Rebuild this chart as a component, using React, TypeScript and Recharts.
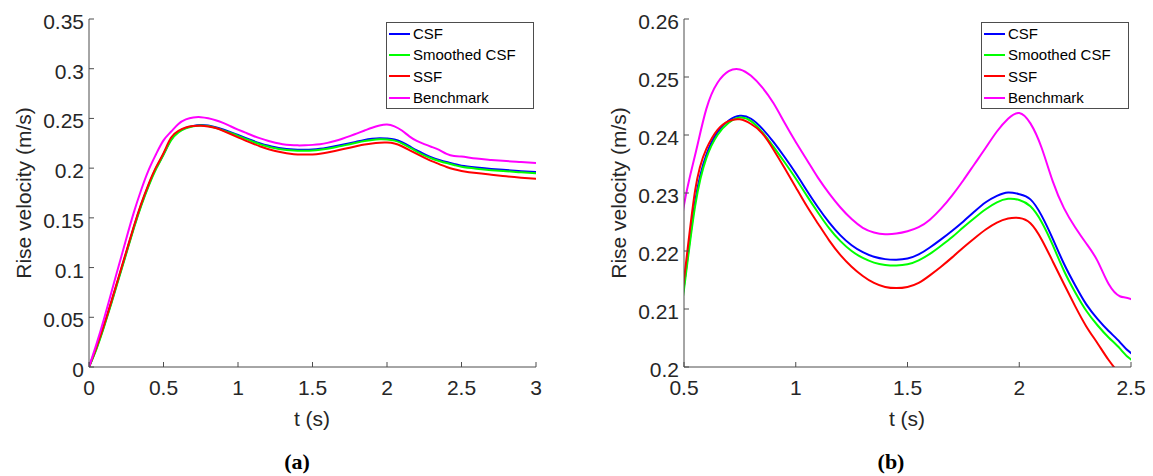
import React from "react";
import { LineChart, Line, XAxis, YAxis, Legend } from "recharts";

// time samples (s)
const time = [
  0, 0.05, 0.1, 0.15, 0.2, 0.25, 0.3, 0.35, 0.4, 0.45,
  0.5, 0.55, 0.6, 0.65, 0.7, 0.75, 0.8, 0.85, 0.9, 0.95,
  1.0, 1.05, 1.1, 1.15, 1.2, 1.25, 1.3, 1.35, 1.4, 1.45,
  1.5, 1.55, 1.6, 1.65, 1.7, 1.75, 1.8, 1.85, 1.9, 1.95,
  2.0, 2.05, 2.1, 2.15, 2.2, 2.25, 2.3, 2.35, 2.4, 2.45,
  2.5, 2.6, 2.7, 2.8, 2.9, 3.0,
];

// rise velocity (m/s)
const csf = [
  0, 0.019, 0.041, 0.065, 0.09, 0.115, 0.14, 0.163, 0.183, 0.2,
  0.214, 0.2286, 0.2366, 0.2405, 0.2425, 0.2433, 0.2428, 0.2411, 0.2388, 0.2362,
  0.2334, 0.2304, 0.2275, 0.2249, 0.2227, 0.221, 0.2198, 0.219, 0.2186, 0.2185,
  0.2187, 0.2194, 0.2206, 0.222, 0.2235, 0.2251, 0.2268, 0.2284, 0.2295, 0.2301,
  0.2298, 0.2289, 0.2261, 0.2221, 0.2178, 0.2141, 0.2108, 0.2083, 0.2062, 0.2043,
  0.2024, 0.2006, 0.1992, 0.1981, 0.197, 0.196,
];

const smoothedCsf = [
  0, 0.018, 0.04, 0.064, 0.089, 0.114, 0.139, 0.162, 0.182, 0.199,
  0.2134, 0.2278, 0.236, 0.24, 0.2421, 0.243, 0.2424, 0.2405, 0.238, 0.2353,
  0.2325, 0.2295, 0.2266, 0.2239, 0.2217, 0.22, 0.2188, 0.218, 0.2176, 0.2175,
  0.2177, 0.2184, 0.2195, 0.2209, 0.2224, 0.2241, 0.2257, 0.2272, 0.2284, 0.229,
  0.2288, 0.2277, 0.225, 0.221, 0.2166, 0.2129, 0.2097, 0.2072, 0.2051, 0.2032,
  0.2013, 0.1994, 0.198, 0.1969, 0.1958, 0.1948,
];

const ssf = [
  0, 0.02, 0.042, 0.066, 0.091, 0.116, 0.141, 0.164, 0.184, 0.201,
  0.2151, 0.2305, 0.2376, 0.2409, 0.2424, 0.2427, 0.2419, 0.2403, 0.2375, 0.2343,
  0.231, 0.2277, 0.2247, 0.2218, 0.2193, 0.2173, 0.2157, 0.2145, 0.2138, 0.2136,
  0.2138, 0.2145, 0.2158, 0.2173, 0.2189, 0.2206, 0.2222, 0.2237, 0.2249, 0.2256,
  0.2257, 0.2248, 0.222, 0.2182, 0.2143, 0.2105, 0.207, 0.2041, 0.2012, 0.1988,
  0.1972, 0.195, 0.1934, 0.1918, 0.1904, 0.1892,
];

const benchmark = [
  0, 0.023, 0.048, 0.075, 0.102, 0.129, 0.155, 0.178, 0.198, 0.214,
  0.2279, 0.2366, 0.2445, 0.249, 0.251, 0.2513, 0.2502, 0.2482, 0.2455, 0.2421,
  0.2388, 0.2357, 0.2326, 0.2299, 0.2275, 0.2255, 0.224, 0.2232, 0.2229, 0.223,
  0.2234, 0.2241, 0.2254, 0.2273, 0.2296, 0.2322, 0.235, 0.2378, 0.2406, 0.2428,
  0.2438, 0.242, 0.2378, 0.232, 0.2274, 0.2241, 0.2213, 0.2183, 0.2143, 0.2122,
  0.2117, 0.2096, 0.2083, 0.2071, 0.2062, 0.2052,
];

const ticksAX = [0, 0.5, 1, 1.5, 2, 2.5, 3];
const ticksAY = [0, 0.05, 0.1, 0.15, 0.2, 0.25, 0.3, 0.35];
const ticksBX = [0.5, 1, 1.5, 2, 2.5];
const ticksBY = [0.2, 0.21, 0.22, 0.23, 0.24, 0.25, 0.26];

const series = [
  { key: "csf", name: "CSF", color: "#0000ff" },
  { key: "smoothedCsf", name: "Smoothed CSF", color: "#00ff00" },
  { key: "ssf", name: "SSF", color: "#ff0000" },
  { key: "benchmark", name: "Benchmark", color: "#ff00ff" },
];

const data = time.map((t, i) => ({
  t,
  csf: csf[i],
  smoothedCsf: smoothedCsf[i],
  ssf: ssf[i],
  benchmark: benchmark[i],
}));

const FONT = "'Liberation Sans', Arial, Helvetica, sans-serif";
const TEXT = "#262626";
const FRAME = "#4d4d4d";
const TICK_LEN = 5;

// MATLAB style ticks: pointing inwards, labels outside
const BottomTick = ({ x, y, payload }: any) => (
  <g>
    <line x1={x} y1={y} x2={x} y2={y - TICK_LEN} stroke={FRAME} />
    <text x={x} y={y + 28} textAnchor="middle" fill={TEXT} fontSize={21} fontFamily={FONT}>
      {payload.value}
    </text>
  </g>
);

const LeftTick = ({ x, y, payload }: any) => (
  <g>
    <line x1={x} y1={y} x2={x + TICK_LEN} y2={y} stroke={FRAME} />
    <text x={x - 5} y={y + 2.5} textAnchor="end" dominantBaseline="central" fill={TEXT} fontSize={21} fontFamily={FONT}>
      {payload.value}
    </text>
  </g>
);

const TopTick = ({ x, y }: any) => <line x1={x} y1={y} x2={x} y2={y + TICK_LEN} stroke={FRAME} />;
const RightTick = ({ x, y }: any) => <line x1={x} y1={y} x2={x - TICK_LEN} y2={y} stroke={FRAME} />;

const LegendBox = ({ payload }: any) => {
  const items = [...(payload || [])].sort(
    (a: any, b: any) =>
      series.findIndex((s) => s.name === a.value) - series.findIndex((s) => s.name === b.value)
  );
  return (
    <div
      style={{
        border: `1px solid ${FRAME}`,
        background: "#fff",
        boxSizing: "border-box",
        width: 148,
        height: 87,
        paddingLeft: 2,
      }}
    >
      {items.map((entry: any) => (
        <div key={entry.value} style={{ display: "flex", alignItems: "center", height: 21.3 }}>
          <span style={{ display: "inline-block", width: 21, borderTop: `2px solid ${entry.color}`, marginRight: 3 }} />
          <span style={{ fontSize: 15, fontFamily: FONT, color: "#000", lineHeight: 1, whiteSpace: "nowrap" }}>
            {entry.value}
          </span>
        </div>
      ))}
    </div>
  );
};

function Panel({
  width,
  yAxisWidth,
  rightMargin,
  xDomain,
  yDomain,
  xTicks,
  yTicks,
  legendLeft,
}: {
  width: number;
  yAxisWidth: number;
  rightMargin: number;
  xDomain: [number, number];
  yDomain: [number, number];
  xTicks: number[];
  yTicks: number[];
  legendLeft: number;
}) {
  return (
    <LineChart width={width} height={476} data={data} margin={{ top: 19, right: rightMargin, bottom: 0, left: 0 }}>
      <XAxis
        dataKey="t"
        type="number"
        domain={xDomain}
        ticks={xTicks}
        interval={0}
        allowDataOverflow
        height={109}
        tickSize={0}
        tickMargin={0}
        tickLine={false}
        axisLine={{ stroke: FRAME }}
        tick={BottomTick}
      />
      <XAxis
        xAxisId="top"
        orientation="top"
        type="number"
        domain={xDomain}
        ticks={xTicks}
        interval={0}
        allowDataOverflow
        height={0}
        tickSize={0}
        tickMargin={0}
        tickLine={false}
        axisLine={{ stroke: FRAME }}
        tick={TopTick}
      />
      <YAxis
        type="number"
        domain={yDomain}
        ticks={yTicks}
        interval={0}
        allowDataOverflow
        width={yAxisWidth}
        tickSize={0}
        tickMargin={0}
        tickLine={false}
        axisLine={{ stroke: FRAME }}
        tick={LeftTick}
      />
      <YAxis
        yAxisId="right"
        orientation="right"
        type="number"
        domain={yDomain}
        ticks={yTicks}
        interval={0}
        allowDataOverflow
        width={0}
        tickSize={0}
        tickMargin={0}
        tickLine={false}
        axisLine={{ stroke: FRAME }}
        tick={RightTick}
      />
      <Legend
        layout="vertical"
        align="center"
        verticalAlign="middle"
        wrapperStyle={{ left: legendLeft, top: 22, width: 148, height: 87 }}
        content={LegendBox}
      />
      {series.map((s) => (
        <Line
          key={s.key}
          type="natural"
          dataKey={s.key}
          name={s.name}
          stroke={s.color}
          strokeWidth={2}
          dot={false}
          activeDot={false}
          isAnimationActive={false}
        />
      ))}
    </LineChart>
  );
}

const textStyle: React.CSSProperties = {
  position: "absolute",
  fontFamily: FONT,
  fontSize: 21,
  color: TEXT,
  whiteSpace: "nowrap",
  lineHeight: 1,
};

const captionStyle: React.CSSProperties = {
  ...textStyle,
  top: 462,
  transform: "translate(-50%, -50%)",
  fontFamily: "'Liberation Serif', 'DejaVu Serif', serif",
  fontWeight: "bold",
  fontSize: 22,
  color: "#000",
};

export default function App() {
  return (
    <div style={{ position: "absolute", left: 0, top: 0, width: 1153, height: 476, background: "#fff" }}>
      <div style={{ position: "absolute", left: 0, top: 0 }}>
        <Panel
          width={560}
          yAxisWidth={89}
          rightMargin={24}
          xDomain={[0, 3]}
          yDomain={[0, 0.35]}
          xTicks={ticksAX}
          yTicks={ticksAY}
          legendLeft={386}
        />
      </div>
      <div style={{ position: "absolute", left: 590, top: 0 }}>
        <Panel
          width={563}
          yAxisWidth={94}
          rightMargin={22}
          xDomain={[0.5, 2.5]}
          yDomain={[0.2, 0.26]}
          xTicks={ticksBX}
          yTicks={ticksBY}
          legendLeft={391}
        />
      </div>

      <div style={{ ...textStyle, left: 23, top: 193, transform: "translate(-50%, -50%) rotate(-90deg)" }}>
        Rise velocity (m/s)
      </div>
      <div style={{ ...textStyle, left: 618, top: 193, transform: "translate(-50%, -50%) rotate(-90deg)" }}>
        Rise velocity (m/s)
      </div>
      <div style={{ ...textStyle, left: 312, top: 418, transform: "translate(-50%, -50%)" }}>t (s)</div>
      <div style={{ ...textStyle, left: 907, top: 418, transform: "translate(-50%, -50%)" }}>t (s)</div>

      <div style={{ ...captionStyle, left: 297 }}>(a)</div>
      <div style={{ ...captionStyle, left: 891 }}>(b)</div>
    </div>
  );
}
